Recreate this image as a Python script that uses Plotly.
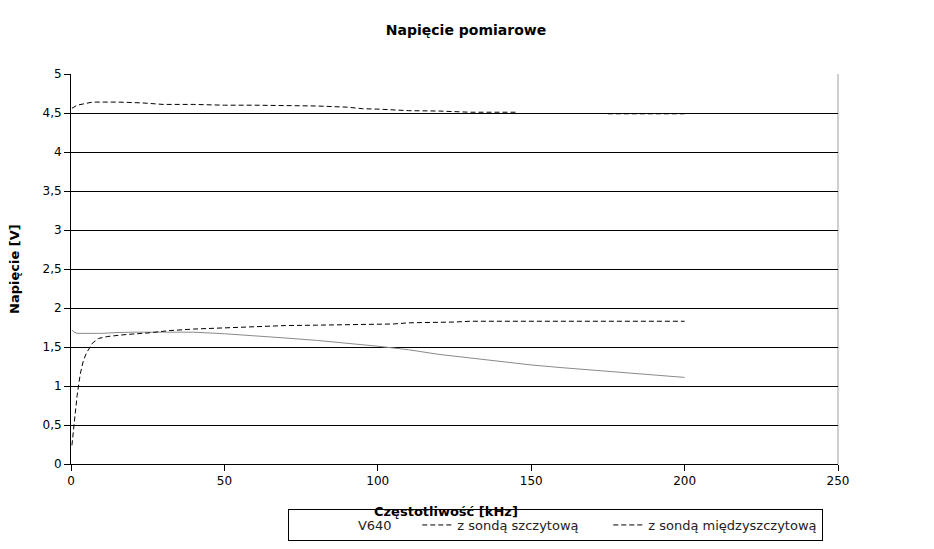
import plotly.graph_objects as go

# ---- data ----
f_v640 = [0.3, 1, 2, 5, 10, 15, 20, 30, 40, 50, 60, 70, 80, 90, 100, 110, 120, 130, 140, 150, 160, 170, 180, 190, 200]
v640 = [1.72, 1.69, 1.675, 1.675, 1.675, 1.685, 1.69, 1.69, 1.69, 1.67, 1.645, 1.615, 1.585, 1.55, 1.51,
        1.465, 1.405, 1.36, 1.315, 1.27, 1.235, 1.205, 1.17, 1.14, 1.11]

f_szczyt = [0.3, 1, 2, 3, 4, 5, 7, 9, 12, 18, 25, 32, 40, 50, 60, 70, 80, 90, 100, 105, 110, 120, 125, 130,
            140, 150, 160, 170, 180, 190, 200]
szczyt = [0.24, 0.52, 0.88, 1.15, 1.32, 1.42, 1.55, 1.61, 1.635, 1.66, 1.68, 1.71, 1.73, 1.745, 1.76, 1.775,
          1.78, 1.785, 1.79, 1.795, 1.81, 1.815, 1.82, 1.83, 1.83, 1.83, 1.83, 1.83, 1.83, 1.83, 1.83]

f_miedzy = [0.3, 2, 7, 15, 23, 30, 40, 50, 60, 70, 80, 90, 95, 100, 110, 120, 130, 140, 145, 150, 160, 170,
            175, 180, 190, 200]
miedzy = [4.56, 4.60, 4.64, 4.64, 4.63, 4.61, 4.61, 4.60, 4.60, 4.595, 4.59, 4.575, 4.555, 4.55, 4.53, 4.525,
          4.51, 4.51, 4.51, None, None, None, 4.49, 4.49, 4.49, 4.49]

x_ticks = [0, 50, 100, 150, 200, 250]
y_ticks = [0, 0.5, 1, 1.5, 2, 2.5, 3, 3.5, 4, 4.5, 5]

title = "Napięcie pomiarowe"
x_title = "Częstotliwość [kHz]"
y_title = "Napięcie [V]"
names = ["V640", "z sondą szczytową", "z sondą międzyszczytową"]

FONT = "DejaVu Sans, Liberation Sans, sans-serif"
DASH = "5px,3px"
NB = "\u00a0"
OFF = 8  # page body margin in the browser

fig = go.Figure()
fig.add_trace(go.Scatter(x=f_v640, y=v640, mode="lines", name=names[0], showlegend=False,
                         line=dict(color="#8a8a8a", width=1)))
# legend entry for V640 (sample invisible, as in the original)
fig.add_trace(go.Scatter(x=[None], y=[None], mode="lines", name=NB * 7 + names[0] + NB * 5,
                         line=dict(color="rgba(255,255,255,0)", width=1)))
fig.add_trace(go.Scatter(x=f_szczyt, y=szczyt, mode="lines", name=names[1] + NB * 6,
                         line=dict(color="black", width=1, dash=DASH)))
fig.add_trace(go.Scatter(x=f_miedzy, y=miedzy, mode="lines", name=names[2], connectgaps=False,
                         line=dict(color="black", width=1, dash=DASH)))

# right wall border (gray)
fig.add_shape(type="line", xref="paper", yref="paper", x0=1, x1=1, y0=0, y1=1,
              line=dict(color="#a0a0a0", width=1), layer="below")

fig.update_layout(
    width=934, height=549,
    margin=dict(l=71 - OFF, r=934 - 71 + OFF - 767, t=74 - OFF, b=549 - 74 + OFF - 390, autoexpand=False),
    paper_bgcolor="white", plot_bgcolor="white",
    separators=", ",
    font=dict(family=FONT, size=12, color="black"),
    title=dict(text="<b>" + title + "</b>", x=(466 - OFF) / 934, xanchor="center",
               y=1 - (30 - OFF) / 549, yanchor="middle",
               font=dict(family=FONT, size=14, color="black")),
    xaxis=dict(range=[0, 250], tickvals=x_ticks, ticks="outside", ticklen=6, tickcolor="black",
               showline=True, linecolor="black", linewidth=1, showgrid=False, zeroline=False,
               tickfont=dict(size=12)),
    yaxis=dict(range=[0, 5], tickvals=y_ticks, ticks="outside", ticklen=6, tickcolor="black",
               showline=True, linecolor="black", linewidth=1, showgrid=True, gridcolor="black",
               gridwidth=1, zeroline=False, tickfont=dict(size=12)),
    legend=dict(orientation="h", xref="container", yref="container",
                x=(288 - OFF) / 934, xanchor="left", y=1 - (509 - OFF) / 549, yanchor="top",
                bordercolor="black", borderwidth=1, bgcolor="white",
                font=dict(family=FONT, size=13, color="#222"), itemwidth=30,
                tracegroupgap=0),
    annotations=[
        dict(text="<b>" + x_title + "</b>", xref="paper", yref="paper",
             x=(446 - 71) / 767, y=(464 - 511) / 390, xanchor="center", yanchor="middle",
             showarrow=False, font=dict(family=FONT, size=13, color="black")),
        dict(text="<b>" + y_title + "</b>", xref="paper", yref="paper",
             x=(14 - 71) / 767, y=0.5, xanchor="center", yanchor="middle", textangle=-90,
             showarrow=False, font=dict(family=FONT, size=13, color="black")),
    ],
)

fig.write_html("out.html")
